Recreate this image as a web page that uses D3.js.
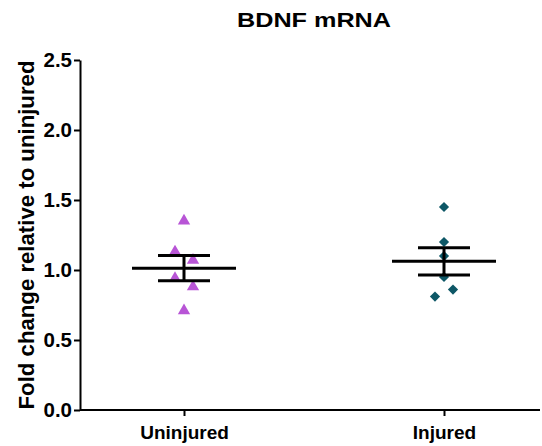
<!DOCTYPE html>
<html>
<meta charset="utf-8">
<style>
  body { margin: 0; background: #fff; }
  svg text { font-family: 'Liberation Sans', Arial, sans-serif; font-weight: bold; }
</style>
<body>
<svg width="542" height="446"></svg>
<script src="https://d3js.org/d3.v7.min.js"></script>
<script>
// data
let groups = ["Uninjured", "Injured"];
let uninjured = [1.35, 1.13, 1.07, 0.94, 0.88, 0.71];
let uninjuredJitter = [0, -1, 1, -1, 1, 0];
let injured = [1.45, 1.20, 1.10, 0.95, 0.86, 0.81];
let injuredJitter = [0, 0, 0, 0, 1, -1];
let yTicks = [0, 0.5, 1.0, 1.5, 2.0, 2.5];

let margin = {top: 60, right: 2, bottom: 36, left: 80},
    width = 542 - margin.left - margin.right,
    height = 446 - margin.top - margin.bottom;

let svg = d3.select("svg");
let g = svg.append("g").attr("transform", "translate(" + margin.left + "," + margin.top + ")");

let xScale = d3.scalePoint().domain(groups).range([104, 364]);
let yScale = d3.scaleLinear().domain([0, 2.5]).range([height, 0]);

// axes
let yAxis = g.append("g").call(d3.axisLeft(yScale).tickValues(yTicks).tickFormat(d3.format(".1f")).tickSize(6).tickSizeOuter(0));
let xAxis = g.append("g").attr("transform", "translate(0," + height + ")")
    .call(d3.axisBottom(xScale).tickSize(6).tickSizeOuter(0));
xAxis.select(".domain").attr("d", "M0,0H" + width);
[yAxis, xAxis].forEach(a => {
  a.select(".domain").attr("stroke", "#000").attr("stroke-width", 2);
  a.selectAll(".tick line").attr("stroke", "#000").attr("stroke-width", 2);
  a.selectAll(".tick text").attr("fill", "#000").style("font-weight", "bold")
    .style("font-family", "'Liberation Sans', Arial, sans-serif");
});
yAxis.selectAll(".tick text").attr("x", -8).style("font-size", "20.5px");
xAxis.selectAll(".tick text").attr("y", 16).style("font-size", "19px");

// titles
svg.append("text").attr("x", 314).attr("y", 27).attr("text-anchor", "middle")
  .attr("textLength", 154).attr("lengthAdjust", "spacingAndGlyphs")
  .style("font-size", "21px").text("BDNF mRNA");
svg.append("text").attr("transform", "translate(34," + (margin.top + height / 2) + ") rotate(-90)")
  .attr("text-anchor", "middle").style("font-size", "22.2px").text("Fold change relative to uninjured");

let series = [
  {name: "Uninjured", values: uninjured, jitter: uninjuredJitter, color: "#b855d6", symbol: d3.symbolTriangle, size: 66, rot: 0},
  {name: "Injured", values: injured, jitter: injuredJitter, color: "#0d5766", symbol: d3.symbolSquare, size: 52, rot: 45}
];

let jitterStep = 9;
series.forEach(s => {
  let cx = xScale(s.name);
  let mean = d3.mean(s.values);
  let sem = d3.deviation(s.values) / Math.sqrt(s.values.length);

  g.selectAll(null).data(s.values).join("path")
    .attr("d", d3.symbol().type(s.symbol).size(s.size))
    .attr("transform", (d, i) => "translate(" + (cx + s.jitter[i] * jitterStep) + "," + yScale(d) + ") rotate(" + s.rot + ")")
    .attr("fill", s.color);

  let eb = g.append("g").attr("stroke", "#000").attr("stroke-width", 3);
  eb.append("line").attr("x1", cx - 52).attr("x2", cx + 52).attr("y1", yScale(mean)).attr("y2", yScale(mean));
  eb.append("line").attr("x1", cx).attr("x2", cx).attr("y1", yScale(mean + sem)).attr("y2", yScale(mean - sem));
  [mean + sem, mean - sem].forEach(v => {
    eb.append("line").attr("x1", cx - 26).attr("x2", cx + 26).attr("y1", yScale(v)).attr("y2", yScale(v));
  });
});
</script>
</body>
</html>
